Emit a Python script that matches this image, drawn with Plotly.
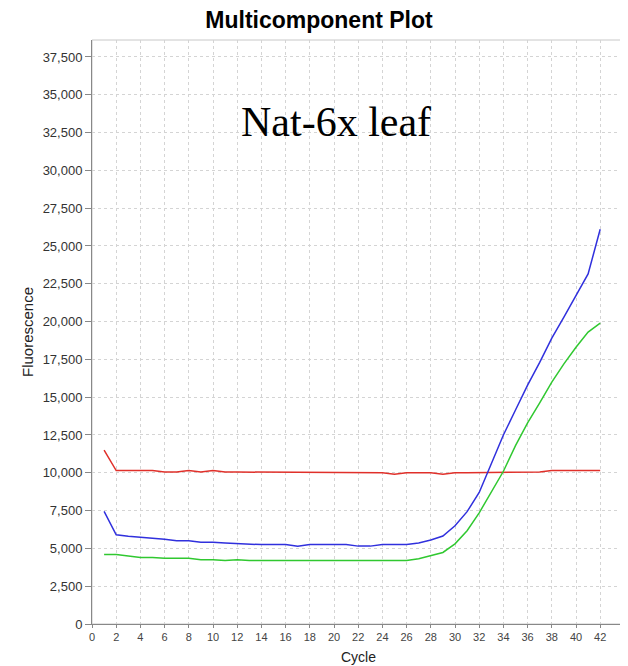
import plotly.graph_objects as go

cycles = list(range(1, 43))
red = [11500, 10150, 10150, 10150, 10150, 10050, 10050, 10150, 10050, 10150,
       10050, 10050, 10050, 10050, 10000, 10050, 10000, 10000, 10050, 10000,
       10000, 10000, 10000, 10000, 9900, 10000, 10000, 10000, 9900, 10000,
       10000, 10000, 10000, 10000, 10050, 10050, 10050, 10150, 10150, 10150,
       10150, 10150]
blue = [7450, 5900, 5800, 5750, 5650, 5600, 5500, 5500, 5400, 5400,
        5350, 5300, 5250, 5250, 5250, 5250, 5150, 5250, 5250, 5250,
        5250, 5150, 5150, 5250, 5250, 5250, 5350, 5550, 5820, 6500,
        7430, 8700, 10600, 12500, 14150, 15800, 17300, 18900, 20300, 21700,
        23150, 26100]
green = [4600, 4600, 4500, 4400, 4400, 4350, 4350, 4350, 4250, 4250,
         4200, 4250, 4200, 4200, 4200, 4200, 4200, 4200, 4200, 4200,
         4200, 4200, 4200, 4200, 4200, 4200, 4320, 4500, 4730, 5300,
         6170, 7350, 8700, 10100, 11800, 13300, 14620, 16000, 17200, 18300,
         19300, 19900]

# page body has an 8px margin, so the figure is drawn 8px in from the top-left
W, H = 620, 658
L, T, R, B = 84, 32, 3, 42
PW, PH = W - L - R, H - T - B

fig = go.Figure()
for ys, col in [(red, "#e0302a"), (blue, "#3030dd"), (green, "#30c830")]:
    fig.add_trace(go.Scatter(x=cycles, y=ys, mode="lines",
                             line=dict(color=col, width=1.5), showlegend=False))

fig.update_layout(
    width=W, height=H,
    margin=dict(l=L, r=R, t=T, b=B),
    paper_bgcolor="white", plot_bgcolor="white",
    title=dict(text="<b>Multicomponent Plot</b>", x=(319 - 8) / W, xanchor="center",
               xref="container", y=1 - (20 - 8) / H, yanchor="middle",
               yref="container",
               font=dict(family="Liberation Sans, Arial", size=23, color="black")),
    font=dict(family="Liberation Sans, Arial", size=11, color="#333333"),
)


def px(xp):
    return (xp - 8 - L) / PW


def py(yp):
    return (H - B - (yp - 8)) / PH


fig.add_annotation(text="Nat-6x leaf", x=px(336), y=py(122),
                   xref="paper", yref="paper", showarrow=False,
                   xanchor="center", yanchor="middle",
                   font=dict(family="Liberation Serif, Times New Roman", size=42,
                             color="black"))
fig.add_annotation(text="Cycle", x=px(358), y=py(657),
                   xref="paper", yref="paper", showarrow=False,
                   xanchor="center", yanchor="middle",
                   font=dict(size=14, color="#222222"))
fig.add_annotation(text="Fluorescence", x=px(27), y=py(332),
                   xref="paper", yref="paper", showarrow=False, textangle=-90,
                   xanchor="center", yanchor="middle",
                   font=dict(size=15, color="#222222"))

fig.update_xaxes(range=[0, 44.05], dtick=2, tick0=0, showgrid=True,
                 gridcolor="#d4d4d4", griddash="3px,3px", gridwidth=1,
                 showline=True, linecolor="#888888", linewidth=1,
                 ticks="outside", ticklen=3, tickcolor="#888888", zeroline=False,
                 automargin=False, tickfont=dict(size=11, color="#444444"))
fig.update_yaxes(range=[0, 38620], dtick=2500, tick0=0, tickformat=",d",
                 showgrid=True, gridcolor="#d4d4d4", griddash="3px,3px", gridwidth=1,
                 showline=True, linecolor="#888888", linewidth=1,
                 ticks="outside", ticklen=6, tickcolor="#888888", zeroline=False,
                 automargin=False, tickfont=dict(size=13, color="#333333"))
fig.add_shape(type="rect", xref="paper", yref="paper", x0=0, y0=0, x1=1, y1=1,
              line=dict(color="#c8c8c8", width=1), layer="below")

fig.write_html("out.html")
